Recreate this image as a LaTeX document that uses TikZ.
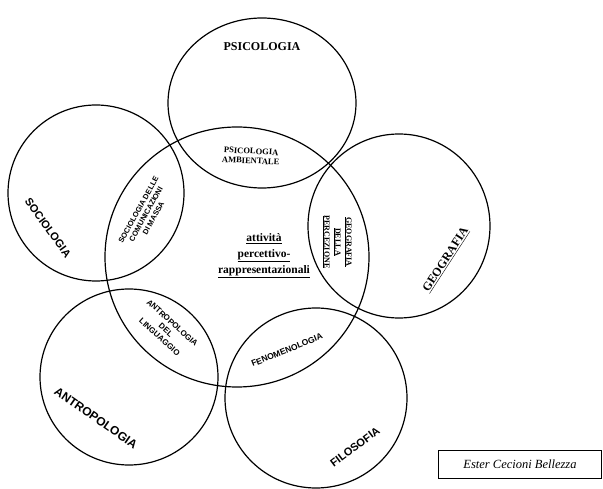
\documentclass[tikz,border=0pt]{standalone}
\usepackage{fontspec}
\setmainfont{Liberation Serif}
\newfontfamily\labelsans{Liberation Sans}
\usepackage{tikz}

\begin{document}
\begin{tikzpicture}[x=1pt,y=-1pt,
    field/.style={line width=1.2pt},
    bigsans/.style={font=\labelsans\bfseries\fontsize{11}{11}\selectfont},
    bigserif/.style={font=\bfseries\fontsize{12}{12}\selectfont},
    smallsans/.style={font=\labelsans\bfseries\fontsize{7.5}{8.5}\selectfont, align=center, inner sep=0pt},
    smallserif/.style={font=\bfseries\fontsize{8.5}{9.5}\selectfont, align=center, inner sep=0pt}]
    \useasboundingbox (0,0) rectangle (603,489);

    % the six fields
    \draw[field] (262,103) ellipse (94 and 85);   % psicologia
    \draw[field] (96,193) ellipse (88 and 88);    % sociologia
    \draw[field] (399,226) ellipse (91 and 92);   % geografia
    \draw[field] (237,257) ellipse (132 and 130); % attivita
    \draw[field] (129,377) ellipse (89 and 88);   % antropologia
    \draw[field] (316,398) ellipse (91 and 90);   % filosofia

    % discipline names
    \node[bigserif] (psico) at (262,47) {PSICOLOGIA};
    \node[bigsans, rotate=-54] (socio) at (48,228) {SOCIOLOGIA};
    \node[bigserif, rotate=57] (geo) at (446,260) {\underline{GEOGRAFIA}};
    \node[bigsans, rotate=-35, font=\labelsans\bfseries\fontsize{12}{12}\selectfont] (antro) at (96,418) {ANTROPOLOGIA};
    \node[bigsans, rotate=37] (filo) at (355,447) {FILOSOFIA};

    % overlaps
    \node[smallserif, rotate=-3] (psicoamb) at (251,156) {PSICOLOGIA\\AMBIENTALE};
    \node[smallsans, rotate=61] (sociocom) at (146,214) {SOCIOLOGIA DELLE\\COMUNICAZIONI\\DI MASSA};
    \node[smallserif, rotate=-90, font=\bfseries\fontsize{8}{11}\selectfont] (geoperc) at (337,242)
        {\underline{GEOGRAFIA}\\\underline{DELLA}\\\underline{PERCEZIONE}};
    \node[smallsans, rotate=-42, font=\labelsans\bfseries\fontsize{8}{9.5}\selectfont] (antroling) at (166,330)
        {ANTROPOLOGIA\\DEL\\LINGUAGGIO};
    \node[smallsans, rotate=22, font=\labelsans\bfseries\fontsize{8.5}{9}\selectfont] (fenom) at (287,350) {FENOMENOLOGIA};

    % centre
    \node[font=\bfseries\fontsize{11.5}{16}\selectfont, align=center] (centro) at (264,256)
        {\underline{attività}\\\underline{percettivo-}\\\underline{rappresentazionali}};

    % signature
    \node[draw, line width=0.6pt, minimum width=163pt, minimum height=28pt,
          font=\itshape\fontsize{12.5}{14}\selectfont] (firma) at (520,464) {Ester Cecioni Bellezza};
\end{tikzpicture}
\end{document}
